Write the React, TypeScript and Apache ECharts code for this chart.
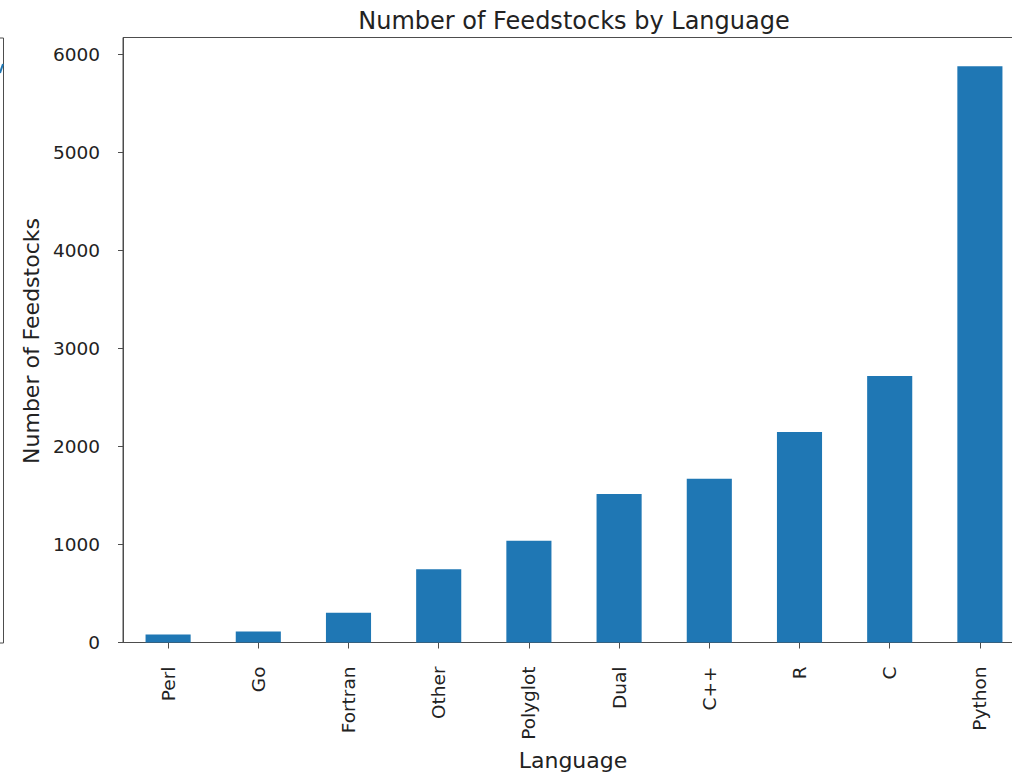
import React, { useEffect, useRef } from "react";
import * as echarts from "echarts";

const categories = ["Perl", "Go", "Fortran", "Other", "Polyglot", "Dual", "C++", "R", "C", "Python"];
const counts = [82, 113, 303, 747, 1037, 1515, 1671, 2147, 2719, 5878];
const yTicks = [0, 1000, 2000, 3000, 4000, 5000, 6000];
const titleText = "Number of Feedstocks by Language";
const xName = "Language";
const yName = "Number of Feedstocks";

const FONT = "'DejaVu Sans', sans-serif";
const TEXT = "#222";
const AXIS = "#4d4d4d";

export default function App() {
  const ref = useRef<HTMLDivElement>(null);
  useEffect(() => {
    if (!ref.current) return;
    const chart = echarts.init(ref.current, null, { renderer: "svg" });
    chart.setOption({
      animation: false,
      backgroundColor: "#ffffff",
      grid: {
        left: 123,
        right: 15,
        top: 37.5,
        bottom: 130.5,
        show: true,
        borderColor: AXIS,
        borderWidth: 1,
        backgroundColor: "transparent",
      },
      xAxis: {
        type: "category",
        data: categories,
        axisLine: { show: true, lineStyle: { color: AXIS, width: 1 } },
        axisTick: { show: true, alignWithLabel: true, length: 6, lineStyle: { color: AXIS } },
        axisLabel: { rotate: 90, margin: 24, fontSize: 18.5, fontFamily: FONT, color: TEXT, interval: 0 },
        splitLine: { show: false },
      },
      yAxis: {
        type: "value",
        min: 0,
        max: 6172,
        interval: 1000,
        axisLine: { show: true, lineStyle: { color: AXIS, width: 1 } },
        axisTick: { show: true, length: 5, lineStyle: { color: AXIS }, customValues: yTicks },
        axisLabel: {
          margin: 23,
          fontSize: 18.5,
          fontFamily: FONT,
          color: TEXT,
          customValues: yTicks,
          formatter: (v: number) => String(v),
        },
        splitLine: { show: false },
      },
      series: [
        {
          type: "bar",
          data: counts,
          barWidth: "50%",
          itemStyle: { color: "#1f77b4" },
        },
      ],
      graphic: [
        {
          type: "text",
          x: 574,
          y: 21,
          style: { text: titleText, fontSize: 24, fontFamily: FONT, fill: TEXT, textAlign: "center", textVerticalAlign: "middle" },
        },
        {
          type: "text",
          x: 573,
          y: 760,
          style: { text: xName, fontSize: 22, fontFamily: FONT, fill: TEXT, textAlign: "center", textVerticalAlign: "middle" },
        },
        {
          type: "text",
          x: 31,
          y: 341,
          rotation: Math.PI / 2,
          style: { text: yName, fontSize: 22, fontFamily: FONT, fill: TEXT, textAlign: "center", textVerticalAlign: "middle" },
        },
        {
          type: "polyline",
          shape: { points: [[0, 38], [3.5, 38], [3.5, 643], [0, 643]] },
          style: { stroke: AXIS, lineWidth: 1, fill: null },
        },
        {
          type: "line",
          shape: { x1: 0, y1: 73, x2: 3, y2: 64 },
          style: { stroke: "#1f77b4", lineWidth: 2 },
        },
      ],
    });
    return () => chart.dispose();
  }, []);
  return (
    <div style={{ position: "absolute", left: 0, top: 0, width: 1012, height: 773, overflow: "hidden" }}>
      <div ref={ref} style={{ width: 1040, height: 773 }} />
    </div>
  );
}
